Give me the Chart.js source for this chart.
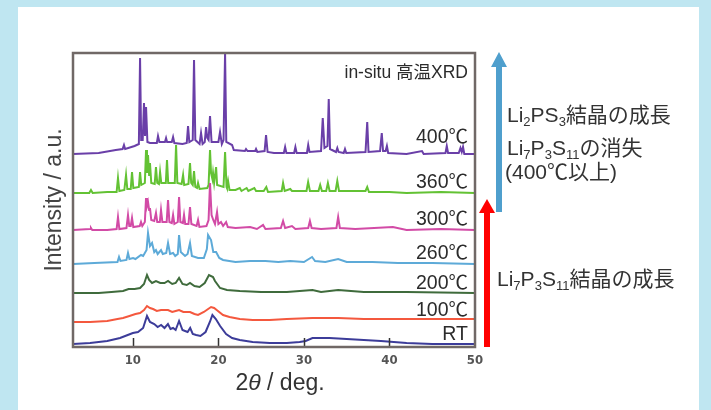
<!DOCTYPE html>
<html>
<head>
<meta charset="utf-8">
<script src="https://cdn.jsdelivr.net/npm/chart.js@4.4.1/dist/chart.umd.min.js"></script>
<style>
  html, body { margin: 0; padding: 0; }
  body { width: 711px; height: 410px; background: #bfe6f1; position: relative; overflow: hidden;
         font-family: "Liberation Sans", "Noto Sans CJK JP", sans-serif; color: #333; }
  #panel { position: absolute; left: 18px; top: 7px; width: 681px; height: 403px; background: #fff; }
  #c { position: absolute; left: 0; top: 0; }
  .lbl { position: absolute; white-space: nowrap; transform: translateY(-50%); }
  .temp { right: 243px; font-size: 19.5px; line-height: 20px; color: #2b2b2b; }
  .note { font-size: 21px; line-height: 22px; color: #333; }
  sub { font-size: 62%; vertical-align: baseline; position: relative; top: 0.3em; }
  #xt { left: 0; width: 560px; text-align: center; font-size: 23px; color: #333; }
</style>
</head>
<body>
<div id="panel"></div>
<canvas id="c" width="711" height="410"></canvas>

<div class="lbl temp" style="top:72px;font-size:17.5px;">in-situ 高温XRD</div>
<div class="lbl temp" style="top:136px;">400℃</div>
<div class="lbl temp" style="top:181px;">360℃</div>
<div class="lbl temp" style="top:218px;">300℃</div>
<div class="lbl temp" style="top:252px;">260℃</div>
<div class="lbl temp" style="top:282px;">200℃</div>
<div class="lbl temp" style="top:309px;">100℃</div>
<div class="lbl temp" style="top:333px;">RT</div>

<div class="lbl note" style="left:507px;top:116px;">Li<sub>2</sub>PS<sub>3</sub>結晶の成長</div>
<div class="lbl note" style="left:507px;top:149px;">Li<sub>7</sub>P<sub>3</sub>S<sub>11</sub>の消失</div>
<div class="lbl note" style="left:505px;top:172px;">(400℃以上)</div>
<div class="lbl note" style="left:497px;top:280px;">Li<sub>7</sub>P<sub>3</sub>S<sub>11</sub>結晶の成長</div>

<div class="lbl" id="xt" style="top:382px;">2<i>θ</i> / deg.</div>

<script>
// ---------------------------------------
// data: [2theta, intensity above own baseline]
// ---------------------------------------
const rt = [[3,0],[5,1],[7,3],[8.5,6],[9.4,9],[10.0,11],[10.6,12],[11.2,16],[11.65,28],[12.0,22],[12.5,20],[12.9,17],[13.3,19],[13.7,16],[14.1,20],[14.4,15],[14.7,16],[15.0,14],[15.4,23],[15.8,14],[16.1,13],[16.4,12],[16.7,16],[17.0,10],[17.4,9],[17.9,8],[18.5,12],[19.0,22],[19.3,29],[19.7,25],[20.2,18],[20.9,10],[21.6,6],[22.5,4],[24,2],[26,1],[28,1],[29.5,2],[30.2,3],[31,6],[33,6],[35,5],[37,4],[39,3],[40.5,2],[42,1],[45,0],[50,0]];

const t100 = [[3,0],[5,0],[7,1],[8.2,3],[8.85,4],[9.6,6],[10.3,8],[10.84,9],[11.3,12],[11.65,16],[12.0,14],[12.36,13],[12.8,11],[13.3,12],[14.11,12],[14.6,10],[15.0,11],[15.4,12],[15.9,10],[16.68,10],[17.2,8],[17.62,7],[18.3,10],[18.8,13],[19.14,15],[19.5,14],[19.8,12],[20.54,7],[21.3,5],[22.5,3],[24,2],[26,2],[28,3],[31,4],[34,4],[37,3],[40,3],[45,3],[50,3]];

const t200 = [[3,0],[6,0],[7.5,1],[8.85,2],[9.5,4],[10.2,4],[10.84,5],[11.3,9],[11.65,18],[11.9,13],[12.24,10],[12.7,12],[13.2,10],[13.7,10],[14.11,12],[14.6,9],[15.0,10],[15.4,15],[15.8,9],[16.3,8],[16.68,10],[17.2,7],[17.8,6],[18.4,10],[18.9,18],[19.37,16],[19.6,12],[20.19,5],[21,3],[22.5,2],[25,1],[28,1],[31,3],[32,1],[34,3],[37,1],[42,1],[50,0]];

const t260 = [[3,0],[5.5,1],[8.2,2],[8.38,7],[8.55,3],[9.25,4],[9.43,11],[9.6,5],[10.02,6],[10.3,5],[10.95,9],[11.2,8],[11.6,14],[11.77,31],[12.0,18],[12.24,21],[12.5,12],[12.7,14],[12.9,10],[13.29,14],[13.5,10],[13.9,11],[14.11,21],[14.35,10],[14.7,11],[14.95,8],[15.25,10],[15.4,29],[15.6,12],[16.1,8],[16.4,10],[16.68,21],[16.9,8],[17.62,6],[18.3,6],[18.65,15],[18.79,29],[19.14,24],[19.4,12],[19.73,12],[20.1,6],[20.54,4],[22,2],[23.7,3],[25.5,3],[27,2],[28.4,3],[30.0,2],[30.95,7],[31.3,3],[32.5,2],[34.0,5],[35,2],[38,2],[41,1],[45,1],[50,0]];

const t300 = [[3,0],[5,1],[5.1,2],[5.25,0],[7,0],[8.1,1],[8.26,13],[8.42,1],[9.25,2],[9.43,15],[9.58,4],[9.75,4],[9.9,12],[10.05,3],[10.8,4],[10.95,8],[11.1,4],[11.4,8],[11.54,32],[11.65,24],[11.77,28],[11.9,20],[12.0,22],[12.15,10],[12.5,9],[12.7,17],[12.85,8],[13.15,8],[13.29,20],[13.45,8],[13.95,8],[14.11,30],[14.27,8],[14.55,7],[14.7,15],[14.85,6],[15.25,8],[15.4,33],[15.55,8],[15.85,7],[15.98,15],[16.12,6],[16.5,6],[16.68,23],[16.84,6],[17.45,4],[17.62,10],[17.78,3],[18.6,4],[18.85,10],[19.02,47],[19.2,15],[19.4,10],[19.6,6],[19.84,18],[20.0,6],[20.3,8],[20.55,4],[20.9,8],[21.1,3],[22,2],[23.7,3],[24.5,1],[25.22,5],[25.5,1],[27.3,2],[27.56,9],[27.8,2],[28.6,4],[29,1],[30.5,2],[30.7,9],[30.9,2],[32,1],[33.8,2],[34.0,13],[34.2,2],[36,1],[40.4,3],[42,0],[46,1],[50,0]];

const t360 = [[3,0],[4.9,0],[5.1,3],[5.3,0],[7,1],[8.1,1],[8.26,15],[8.42,2],[9.0,3],[9.2,18],[9.35,4],[9.75,4],[9.9,21],[10.05,5],[10.7,6],[10.84,21],[10.98,8],[11.4,10],[11.54,43],[11.65,20],[11.77,38],[11.9,18],[12.0,30],[12.15,10],[12.55,9],[12.7,26],[12.85,10],[13.05,9],[13.18,21],[13.32,10],[13.85,10],[13.99,33],[14.13,10],[14.9,10],[15.05,48],[15.2,10],[15.7,9],[15.87,18],[16.0,8],[16.5,9],[16.68,30],[16.82,10],[17.0,8],[17.15,22],[17.3,6],[17.5,5],[17.62,10],[17.8,4],[18.7,5],[18.85,8],[19.02,43],[19.14,20],[19.3,14],[19.37,20],[19.5,10],[19.73,26],[19.85,8],[20.6,6],[20.78,41],[20.95,6],[21.0,5],[21.13,12],[21.3,3],[22,3],[22.5,5],[22.7,2],[23.3,5],[23.5,2],[24.2,5],[24.4,2],[25.3,2],[25.6,6],[25.8,1],[27.4,2],[27.56,10],[27.75,2],[28.4,4],[28.6,2],[30.3,2],[30.49,11],[30.7,2],[31.7,2],[31.9,8],[32.1,2],[32.6,2],[32.8,10],[33.0,2],[33.7,2],[33.9,12],[34.1,2],[35,2],[37.2,2],[37.4,6],[37.6,1],[40,1],[42,0],[46,1],[50,0]];

const t400 = [[3,0],[6,1],[8,4],[8.8,5],[8.96,9],[9.1,5],[10.2,8],[10.7,10],[10.84,96],[10.97,14],[11.15,14],[11.3,51],[11.42,18],[11.54,47],[11.7,12],[12.0,11],[12.8,11],[12.94,18],[13.1,12],[13.75,12],[13.88,16],[14.0,12],[14.55,12],[14.7,17],[14.85,11],[15.8,10],[16.3,11],[16.45,28],[16.6,12],[17.0,14],[17.15,94],[17.3,14],[17.8,10],[17.97,21],[18.15,10],[18.4,12],[18.56,27],[18.7,16],[18.85,14],[19.02,38],[19.2,12],[20.0,12],[20.19,22],[20.4,10],[20.6,14],[20.78,101],[20.92,12],[21.6,9],[21.8,4],[23.1,3],[23.23,5],[23.4,3],[24.3,3],[24.4,5],[24.55,2],[25.4,3],[25.57,19],[25.75,2],[26.5,1],[27.65,1],[27.8,7],[27.95,1],[28.85,1],[29.0,7],[29.15,1],[30.35,1],[30.5,9],[30.65,2],[32.0,3],[32.2,36],[32.4,6],[32.75,8],[32.9,55],[33.05,5],[33.75,2],[33.9,6],[34.05,2],[34.65,1],[34.8,5],[34.95,1],[37.2,2],[37.4,32],[37.55,2],[38.9,3],[39.1,21],[39.25,3],[39.55,3],[39.7,8],[39.85,1],[42,0],[43.8,3],[44,0],[46.55,1],[46.7,8],[46.85,1],[48.1,1],[48.3,6],[48.45,2],[48.6,7],[48.75,0],[50,0]];

// stacking offsets (a.u.) and names, bottom to top
const names   = ['RT', '100℃', '200℃', '260℃', '300℃', '360℃', '400℃'];
const offsets = [3, 25, 54, 83, 117, 154, 193];
const xTicks  = [10, 20, 30, 40, 50];

const series = [rt, t100, t200, t260, t300, t360, t400];
const colors = ['#3c3c99', '#f4583e', '#3f6b3c', '#5daad8', '#d24ba6', '#63c234', '#6a3fa8'];

// frame, inner tick marks and the two arrows
const extras = {
    id: 'extras',
    afterDatasetsDraw(chart) {
        const ctx = chart.ctx, a = chart.chartArea, xs = chart.scales.x;
        ctx.save();
        ctx.strokeStyle = '#333';
        ctx.lineWidth = 1.5;
        xTicks.forEach(function (v) {
            if (v >= 50) return;
            const px = Math.round(xs.getPixelForValue(v)) + 0.5;
            ctx.beginPath();
            ctx.moveTo(px, a.bottom);
            ctx.lineTo(px, a.bottom - 9);
            ctx.stroke();
        });
        ctx.strokeStyle = '#706866';
        ctx.lineWidth = 2.5;
        ctx.strokeRect(a.left, a.top, a.right - a.left, a.bottom - a.top);

        // blue arrow
        ctx.fillStyle = '#4f9fcd';
        ctx.fillRect(496, 66, 6, 146);
        ctx.beginPath();
        ctx.moveTo(499, 52); ctx.lineTo(507, 67); ctx.lineTo(491, 67); ctx.closePath();
        ctx.fill();
        // red arrow
        ctx.fillStyle = '#ff0000';
        ctx.fillRect(484, 212, 6, 135);
        ctx.beginPath();
        ctx.moveTo(487, 199); ctx.lineTo(495, 213); ctx.lineTo(479, 213); ctx.closePath();
        ctx.fill();
        ctx.restore();
    }
};

const chart = new Chart(document.getElementById('c'), {
    type: 'line',
    data: {
        datasets: series.map(function (s, i) {
            return {
                label: names[i],
                data: s.map(function (p) { return { x: p[0], y: p[1] + offsets[i] }; }),
                borderColor: colors[i],
                borderWidth: 2,
                pointRadius: 0,
                tension: 0,
                fill: false
            };
        })
    },
    options: {
        responsive: false,
        animation: false,
        devicePixelRatio: 1,
        layout: { padding: { left: 0, top: 53, right: 236, bottom: 0 } },
        plugins: { legend: { display: false }, tooltip: { enabled: false } },
        scales: {
            x: {
                type: 'linear',
                min: 3,
                max: 50,
                afterBuildTicks: function (s) { s.ticks = xTicks.map(function (v) { return { value: v }; }); },
                afterFit: function (s) { s.height = 63; },
                grid: { display: false, drawTicks: false },
                border: { display: false },
                ticks: {
                    padding: 6,
                    color: '#555',
                    font: { family: "'Liberation Sans Narrow', 'DejaVu Sans Condensed', sans-serif", size: 13, weight: 'bold' }
                }
            },
            y: {
                min: 0,
                max: 294,
                afterFit: function (s) { s.width = 73; },
                grid: { display: false, drawTicks: false },
                border: { display: false },
                ticks: { display: false },
                title: {
                    display: true,
                    text: 'Intensity / a.u.',
                    color: '#444',
                    font: { family: "'Liberation Sans', sans-serif", size: 23 },
                    padding: { top: 41, bottom: 0 }
                }
            }
        }
    },
    plugins: [extras]
});
</script>
</body>
</html>
